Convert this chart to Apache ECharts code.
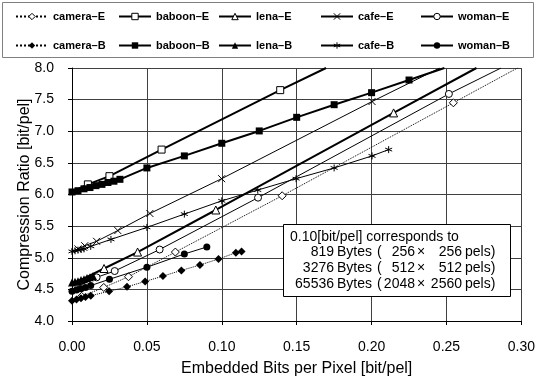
<!DOCTYPE html>
<html><head><meta charset="utf-8">
<script src="https://cdn.jsdelivr.net/npm/echarts@6/dist/echarts.min.js"></script>
<style>html,body{margin:0;padding:0;background:#fff}#c{width:538px;height:382px}</style>
</head><body><div id="c"></div>
<script>
// ---- data (x: embedded bits per pixel, y: compression ratio) ----
// "E" series: marker points, plus line end points (drawn without marker)
const cameraE      = [[0.0064,4.39],[0.0212,4.53],[0.0377,4.70],[0.069,5.09],[0.1403,5.98],[0.2546,7.45]];
const cameraE_ends = [[0,4.32],[0.2974,8.0]];
const baboonE      = [[0.0106,6.16],[0.025,6.29],[0.0598,6.71],[0.139,7.65]];
const baboonE_ends = [[0,6.04],[0.1696,8.0]];
const lenaE        = [[0.0214,4.83],[0.0438,5.09],[0.096,5.755],[0.2147,7.29]];
const lenaE_ends   = [[0,4.58],[0.270,8.0]];
const cafeE        = [[0.004,5.14],[0.0085,5.19],[0.0164,5.26],[0.0306,5.43],[0.052,5.70],[0.0999,6.25],[0.2003,7.47]];
const cafeE_ends   = [[0,5.10],[0.2455,8.0]];
const womanE       = [[0.0164,4.69],[0.0285,4.79],[0.0585,5.13],[0.1242,5.95],[0.2516,7.59]];
const womanE_ends  = [[0,4.50],[0.2864,8.0]];
// "B" series
const cameraB = [[0,4.32],[0.003,4.34],[0.006,4.36],[0.009,4.38],[0.0125,4.40],[0.0248,4.47],[0.0367,4.54],[0.0488,4.625],[0.0607,4.71],[0.073,4.80],[0.0854,4.885],[0.0978,4.98],[0.1094,5.08],[0.1132,5.10]];
const baboonB = [[0,6.04],[0.004,6.06],[0.008,6.09],[0.012,6.11],[0.016,6.14],[0.020,6.16],[0.024,6.19],[0.028,6.21],[0.032,6.24],[0.05,6.42],[0.075,6.61],[0.10,6.81],[0.125,7.005],[0.15,7.22],[0.175,7.42],[0.20,7.61],[0.225,7.81]];
const baboonB_tail = [[0.2486,8.0]];
const lenaB   = [[0,4.61],[0.002,4.62],[0.004,4.63],[0.006,4.65],[0.008,4.66],[0.010,4.68],[0.012,4.69],[0.014,4.71]];
const cafeB   = [[0,5.10],[0.002,5.11],[0.004,5.12],[0.006,5.13],[0.008,5.14],[0.0125,5.18],[0.026,5.29],[0.05,5.48],[0.075,5.69],[0.10,5.90],[0.124,6.07],[0.1496,6.25],[0.175,6.42],[0.2003,6.61],[0.2114,6.71]];
const womanB  = [[0,4.47],[0.003,4.49],[0.006,4.51],[0.009,4.53],[0.0125,4.56],[0.025,4.66],[0.05,4.85],[0.075,5.06],[0.09,5.17]];

const imgNames = ['camera','baboon','lena','cafe','woman'];
const xTickFmt = v => v.toFixed(2);
const yTickFmt = v => v.toFixed(1);
const noteLine1 = '0.10[bit/pel] corresponds to';
const noteBytes = ['819','3276','65536'];
const noteDim1  = ['256','512','2048'];
const noteDim2  = ['256','512','2560'];

// ---- build ----
const DASH = '\u2013';
const CROSS = 'path://M0,0L8,8M8,0L0,8';
const STAR  = 'path://M4,-0.6L4,8.6M0,2L8,6M0,6L8,2';
const styles = {
  camera: {E:{type:'dotted',w:1,sym:'diamond',size:8,hollow:true}, B:{type:'dotted',w:1,sym:'diamond',size:8}},
  baboon: {E:{type:'solid',w:2,sym:'rect',size:7,hollow:true},    B:{type:'solid',w:2,sym:'rect',size:7}},
  lena:   {E:{type:'solid',w:2,sym:'triangle',size:8,hollow:true},B:{type:'solid',w:2,sym:'triangle',size:8}},
  cafe:   {E:{type:'solid',w:1,sym:CROSS,size:7,path:true},B:{type:'solid',w:1,sym:STAR,size:7,path:true}},
  woman:  {E:{type:'solid',w:1,sym:'circle',size:7,hollow:true},  B:{type:'solid',w:1,sym:'circle',size:7}}
};
const eSets = {camera:[cameraE,cameraE_ends], baboon:[baboonE,baboonE_ends], lena:[lenaE,lenaE_ends], cafe:[cafeE,cafeE_ends], woman:[womanE,womanE_ends]};
const bSets = {camera:[cameraB,[]], baboon:[baboonB,baboonB_tail], lena:[lenaB,[]], cafe:[cafeB,[]], woman:[womanB,[]]};

function mkSeries(name, kind, data){
  const s = styles[name][kind];
  const item = s.path ? {color:'#000', borderColor:'#000', borderWidth:1}
             : (s.hollow ? {color:'#fff', borderColor:'#000', borderWidth:1} : {color:'#000', borderWidth:0});
  return {
    name: name + DASH + kind, type:'line', data, clip:true,
    symbol: s.sym, symbolSize: s.size, showAllSymbol:true,
    lineStyle:{color:'#000', width:s.w, type:s.type},
    itemStyle: item, animation:false, z: kind==='B'?3:2
  };
}
const series = [];
imgNames.forEach(n=>{
  const [pts, ends] = eSets[n];
  const d = [{value:ends[0], symbol:'none'}].concat(pts.map(p=>({value:p}))).concat([{value:ends[1], symbol:'none'}]);
  series.push(mkSeries(n,'E',d));
});
imgNames.forEach(n=>{
  const [pts, tail] = bSets[n];
  const d = pts.map(p=>({value:p})).concat(tail.map(p=>({value:p, symbol:'none'})));
  series.push(mkSeries(n,'B',d));
});

const FONT = 'Liberation Sans';
const legendLefts = [10,113,213,315,415];
const legends = imgNames.map((n,i)=>({
  orient:'vertical', left:legendLefts[i], top:6, itemWidth:32, itemHeight:8, itemGap:18,
  selectedMode:false, data:[n+DASH+'E', n+DASH+'B'],
  itemStyle:{borderWidth:1},
  textStyle:{fontSize:11, fontWeight:'bold', color:'#000', fontFamily:FONT}
}));

// note box texts
const T = (opt)=>({type:'text', z:100, style:Object.assign({fill:'#000', font:'14px '+FONT, textVerticalAlign:'middle'}, opt.style), x:opt.x, y:opt.y});
const noteY = [252,268,284];
const graphics = [
  {type:'rect', shape:{x:2.5,y:2.5,width:531,height:55}, style:{fill:'none', stroke:'#808080', lineWidth:1}, z:0},
  {type:'rect', shape:{x:283.5,y:224.5,width:227,height:72}, style:{fill:'#fff', stroke:'#000', lineWidth:1}, z:99},
  T({x:290, y:237, style:{text:noteLine1, textAlign:'left'}})
];
noteY.forEach((y,i)=>{
  graphics.push(T({x:334, y, style:{text:noteBytes[i], textAlign:'right'}}));
  graphics.push(T({x:337, y, style:{text:'Bytes', textAlign:'left'}}));
  graphics.push(T({x:377, y, style:{text:'(', textAlign:'left'}}));
  graphics.push(T({x:415, y, style:{text:noteDim1[i], textAlign:'right'}}));
  graphics.push(T({x:421, y, style:{text:'\u00d7', textAlign:'center'}}));
  graphics.push(T({x:462, y, style:{text:noteDim2[i], textAlign:'right'}}));
  graphics.push(T({x:465, y, style:{text:'pels)', textAlign:'left'}}));
});

const chart = echarts.init(document.getElementById('c'), null, {renderer:'canvas'});
chart.setOption({
  backgroundColor:'#fff',
  textStyle:{fontFamily:FONT},
  animation:false,
  grid:{left:72, right:13, top:68, bottom:58, containLabel:false},
  legend: legends,
  xAxis:{
    type:'value', min:0, max:0.3, interval:0.05,
    name:'Embedded Bits per Pixel [bit/pel]', nameLocation:'middle', nameGap:40, nameMoveOverlap:false,
    nameTextStyle:{fontSize:16, color:'#000', fontFamily:FONT},
    axisLine:{show:true, onZero:false, lineStyle:{color:'#000', width:1}},
    axisTick:{show:true, inside:false, length:4, lineStyle:{color:'#000'}},
    axisLabel:{formatter:xTickFmt, fontSize:14, color:'#000', margin:19, fontFamily:FONT},
    splitLine:{show:true, interval:(i)=> i===2 || i===6, lineStyle:{color:'#404040', width:1}}
  },
  yAxis:{
    type:'value', min:4, max:8, interval:0.5,
    name:'Compression Ratio [bit/pel]', nameLocation:'middle', nameGap:39, nameMoveOverlap:false,
    nameTextStyle:{fontSize:16, color:'#000', fontFamily:FONT},
    axisLine:{show:true, onZero:false, lineStyle:{color:'#000', width:1}},
    axisTick:{show:true, inside:false, length:4, lineStyle:{color:'#000'}},
    axisLabel:{formatter:yTickFmt, fontSize:14, color:'#000', margin:18, fontFamily:FONT},
    splitLine:{show:true, lineStyle:{color:'#404040', width:1}}
  },
  series,
  graphic: graphics
});
</script></body></html>
